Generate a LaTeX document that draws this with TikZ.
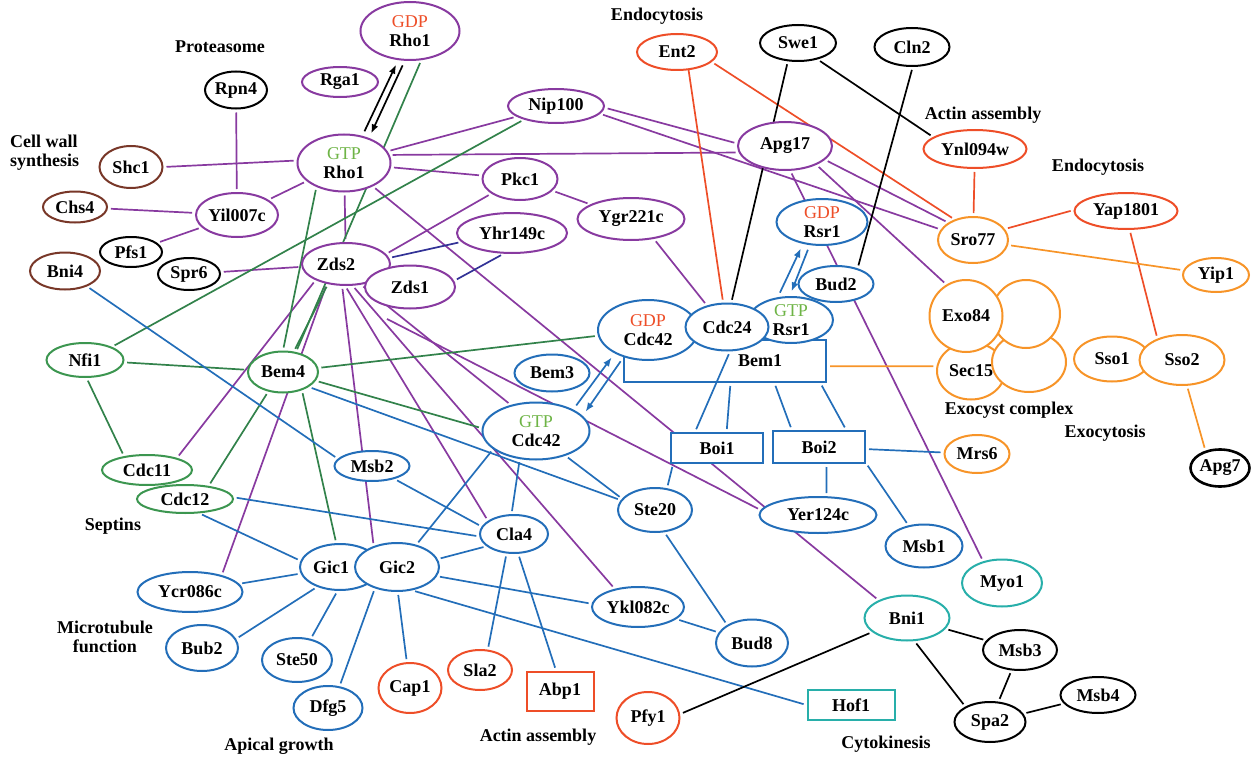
\documentclass[tikz,border=0pt]{standalone}
\usepackage{fontspec}
\setmainfont{Liberation Serif}
\usetikzlibrary{shapes.geometric,arrows.meta,backgrounds}
\definecolor{pur}{RGB}{136,58,160}
\definecolor{grn}{RGB}{50,130,75}
\definecolor{grnN}{RGB}{60,150,80}
\definecolor{blu}{RGB}{35,110,185}
\definecolor{org}{RGB}{247,148,40}
\definecolor{red}{RGB}{238,78,40}
\definecolor{brn}{RGB}{120,55,40}
\definecolor{tea}{RGB}{40,175,170}
\definecolor{ind}{RGB}{50,50,150}
\definecolor{gtp}{RGB}{110,180,70}
\definecolor{gdp}{RGB}{238,78,40}
\definecolor{blk}{RGB}{0,0,0}
\newcommand{\nf}{\bfseries\fontsize{18}{19}\selectfont}
\tikzset{
  nd/.style={ellipse, draw, fill=white, line width=2pt, inner sep=0pt, font=\nf, align=center},
  bx/.style={rectangle, draw, fill=white, line width=2pt, inner sep=0pt, font=\nf},
  sz/.style 2 args={minimum width=#1pt, minimum height=#2pt},
  lbl/.style={font=\nf, inner sep=0pt},
  ln/.style={line width=1.7pt, shorten <=3pt, shorten >=3pt},
  arr/.style={line width=1.7pt, -{Latex[length=9pt,width=7pt]}, shorten <=5pt, shorten >=5pt},
}
\begin{document}
\begin{tikzpicture}[x=1pt,y=-1pt]
\useasboundingbox (0,0) rectangle (1254,760);
% ---- group labels
\node[lbl] (tProt) at (220,47) {Proteasome};
\node[lbl,align=left,anchor=west] (tCell) at (10,153) {Cell wall\\synthesis};
\node[lbl] (tEndoA) at (657,16) {Endocytosis};
\node[lbl] (tActA) at (983,115) {Actin assembly};
\node[lbl] (tEndoB) at (1098,167) {Endocytosis};
\node[lbl] (tExoc) at (1009,410) {Exocyst complex};
\node[lbl] (tExo) at (1105,433) {Exocytosis};
\node[lbl] (tSep) at (113,526) {Septins};
\node[lbl,align=center] (tMic) at (105,637) {Microtubule\\function};
\node[lbl] (tApi) at (279,746) {Apical growth};
\node[lbl] (tActB) at (538,737) {Actin assembly};
\node[lbl] (tCyt) at (886,744) {Cytokinesis};
% ---- black nodes
\node[nd,draw=blk,sz={62}{37}] (Rpn4) at (236,90) {Rpn4};
\node[nd,draw=blk,sz={62}{30}] (Pfs1) at (131,252) {Pfs1};
\node[nd,draw=blk,sz={62}{32}] (Spr6) at (189,274) {Spr6};
\node[nd,draw=blk,sz={76}{36}] (Swe1) at (798,43) {Swe1};
\node[nd,draw=blk,sz={75}{38}] (Cln2) at (912,47) {Cln2};
\node[nd,draw=blk,sz={59}{37},line width=2.6pt] (Apg7) at (1220,468) {Apg7};
\node[nd,draw=blk,sz={74}{40}] (Msb3) at (1020,650) {Msb3};
\node[nd,draw=blk,sz={71}{40}] (Spa2) at (990,722) {Spa2};
\node[nd,draw=blk,sz={75}{36}] (Msb4) at (1098,695) {Msb4};
% ---- brown nodes
\node[nd,draw=brn,sz={63}{42}] (Shc1) at (131,167) {Shc1};
\node[nd,draw=brn,sz={64}{31}] (Chs4) at (75,207) {Chs4};
\node[nd,draw=brn,sz={70}{37}] (Bni4) at (65,271) {Bni4};
% ---- purple nodes
\node[nd,draw=pur,sz={99}{58}] (Rho1GDP) at (410,31) {\textcolor{gdp}{\mdseries GDP}\\Rho1};
\node[nd,draw=pur,sz={76}{30}] (Rga1) at (340,82) {Rga1};
\node[nd,draw=pur,sz={93}{57}] (Rho1GTP) at (344,163) {\textcolor{gtp}{\mdseries GTP}\\Rho1};
\node[nd,draw=pur,sz={82}{44}] (Yil007c) at (237,215) {Yil007c};
\node[nd,draw=pur,sz={96}{34}] (Nip100) at (556,106) {Nip100};
\node[nd,draw=pur,sz={75}{42}] (Pkc1) at (520,179) {Pkc1};
\node[nd,draw=pur,sz={107}{42}] (Ygr221c) at (631,219) {Ygr221c};
\node[nd,draw=pur,sz={110}{40}] (Yhr149c) at (512,233) {Yhr149c};
\node[nd,draw=pur,sz={88}{42}] (Zds2) at (346,264) {Zds2\hspace*{20pt}};
\node[nd,draw=pur,sz={90}{43}] (Zds1) at (410,287) {Zds1};
\node[nd,draw=pur,sz={94}{48}] (Apg17) at (785,146) {Apg17};
% ---- green nodes
\node[nd,draw=grnN,sz={77}{34}] (Nfi1) at (85,360) {Nfi1};
\node[nd,draw=grnN,sz={70}{41}] (Bem4) at (283,372) {Bem4};
\node[nd,draw=grnN,sz={90}{30}] (Cdc11) at (147,470) {Cdc11};
\node[nd,draw=grnN,sz={96}{28}] (Cdc12) at (185,499) {Cdc12};
% ---- blue nodes
\node[nd,draw=blu,sz={75}{30}] (Msb2) at (372,466) {Msb2};
\node[nd,draw=blu,sz={68}{38}] (Cla4) at (514,534) {Cla4};
\node[nd,draw=blu,sz={80}{46}] (Gic1) at (340,567) {Gic1\hspace*{18pt}};
\node[nd,draw=blu,sz={84}{48}] (Gic2) at (397,567) {Gic2};
\node[nd,draw=blu,sz={105}{40}] (Ycr086c) at (190,592) {Ycr086c};
\node[nd,draw=blu,sz={72}{46}] (Bub2) at (202,648) {Bub2};
\node[nd,draw=blu,sz={70}{44}] (Ste50) at (297,660) {Ste50};
\node[nd,draw=blu,sz={69}{44}] (Dfg5) at (328,708) {Dfg5};
\node[nd,draw=blu,sz={92}{40}] (Ykl082c) at (638,607) {Ykl082c};
\node[nd,draw=blu,sz={72}{47}] (Bud8) at (752,643) {Bud8};
\node[nd,draw=blu,sz={74}{44}] (Ste20) at (655,510) {Ste20};
\node[nd,draw=blu,sz={107}{57}] (Cdc42GTP) at (536,431) {\textcolor{gtp}{\mdseries GTP}\\Cdc42};
\node[nd,draw=blu,sz={75}{37}] (Bem3) at (552,373) {Bem3};
\node[rectangle,draw=blu,line width=2pt,minimum width=202pt,minimum height=42pt,inner sep=0pt,
      label={[font=\nf,xshift=35pt]center:Bem1}] (Bem1) at (725,361) {};
\node[nd,draw=blu,sz={100}{60}] (Cdc42GDP) at (648,330) {\textcolor{gdp}{\mdseries GDP}\\Cdc42};
\node[nd,draw=blu,sz={75}{36}] (Bud2) at (836,284) {Bud2};
\node[nd,draw=blu,sz={84}{46}] (Rsr1GTP) at (791,320) {\textcolor{gtp}{\mdseries GTP}\\Rsr1};
\node[nd,draw=blu,sz={83}{47}] (Cdc24) at (727,327) {Cdc24};
\node[nd,draw=blu,sz={91}{46}] (Rsr1GDP) at (822,222) {\textcolor{gdp}{\mdseries GDP}\\Rsr1};
\node[bx,draw=blu,sz={92}{30}] (Boi1) at (717,448) {Boi1};
\node[bx,draw=blu,sz={92}{32}] (Boi2) at (819,447) {Boi2};
\node[nd,draw=blu,sz={117}{36}] (Yer124c) at (818,515) {Yer124c};
\node[nd,draw=blu,sz={77}{43}] (Msb1) at (924,546) {Msb1};
% ---- red nodes
\node[nd,draw=red,sz={80}{36}] (Ent2) at (677,52) {Ent2};
\node[nd,draw=red,sz={103}{38}] (Ynl094w) at (975,149) {Ynl094w};
\node[nd,draw=red,sz={103}{36}] (Yap1801) at (1126,211) {Yap1801};
\node[nd,draw=red,sz={63}{50}] (Cap1) at (410,688) {Cap1};
\node[nd,draw=red,sz={64}{40}] (Sla2) at (480,670) {Sla2};
\node[bx,draw=red,sz={67}{39}] (Abp1) at (560,691) {Abp1};
\node[nd,draw=red,sz={63}{52}] (Pfy1) at (648,718) {Pfy1};
% ---- orange nodes
\node[nd,draw=org,sz={70}{46}] (Sro77) at (973,240) {Sro77};
\node[nd,draw=org,sz={66}{34}] (Yip1) at (1216,275) {Yip1};
\node[nd,draw=org,sz={68}{57}] (Sec15) at (971,371) {Sec15};
\node[nd,draw=org,sz={74}{60}] (ExoBR) at (1029,362) {};
\node[nd,draw=org,sz={68}{68}] (ExoTR) at (1026,314) {};
\node[nd,draw=org,sz={73}{72}] (Exo84) at (966,316) {Exo84};
\node[nd,draw=org,sz={76}{45}] (Sso1) at (1112,359) {Sso1};
\node[nd,draw=org,sz={85}{50}] (Sso2) at (1182,360) {Sso2};
\node[nd,draw=org,sz={65}{38}] (Mrs6) at (977,454) {Mrs6};
% ---- teal nodes
\node[nd,draw=tea,sz={80}{47}] (Myo1) at (1002,583) {Myo1};
\node[nd,draw=tea,sz={85}{45}] (Bni1) at (907,618) {Bni1};
\node[bx,draw=tea,sz={87}{30}] (Hof1) at (851,705) {Hof1};

\begin{pgfonlayer}{background}
% purple
\draw[ln,pur] (Shc1.0) -- (Rho1GTP.177);
\draw[ln,pur] (Rpn4) -- (Yil007c);
\draw[ln,pur] (Chs4) -- (Yil007c);
\draw[ln,pur] (Pfs1) -- (Yil007c);
\draw[ln,pur] (Yil007c) -- (Rho1GTP);
\draw[ln,pur] (Rho1GTP) -- (Nip100);
\draw[ln,pur] (Rho1GTP.10) -- (Apg17.188);
\draw[ln,pur] (Rho1GTP) -- (Pkc1);
\draw[ln,pur] (Rho1GTP) -- (Zds2);
\draw[ln,pur] (Rho1GTP.321) -- (Bni1.148);
\draw[ln,pur] (Pkc1) -- (Ygr221c);
\draw[ln,pur] (Pkc1.207) -- (Zds2.14);
\draw[ln,pur] (Ygr221c.319) -- (Cdc24.133);
\draw[ln,pur] (Nip100.358) -- (Apg17.177);
\draw[ln,pur] (Nip100.350) -- (Sro77.162);
\draw[ln,pur] (Apg17.341) -- (Sro77.145);
\draw[ln,pur] (Apg17.329) -- (Exo84.122);
\draw[ln,pur] (Apg17.282) -- (Myo1.131);
\draw[ln,pur] (Spr6) -- (Zds2);
\draw[ln,pur] (Zds2.208) -- (Cdc11.22);
\draw[ln,pur] (Zds2.226) -- (Ycr086c.28);
\draw[ln,pur] (Zds2.260) -- (Gic2.138);
\draw[ln,pur] (Zds2.268) -- (Cla4.153);
\draw[ln,pur] (Zds2.287) -- (Ykl082c.142);
\draw[ln,pur] (Zds2.306) -- (Cdc42GTP.134);
\draw[ln,pur,shorten <=46pt] ([yshift=-12pt]Zds2.south) -- (Yer124c.175);
% indigo
\draw[ln,ind] (Zds2.8) -- (Yhr149c.190);
\draw[ln,ind] (Zds1.8) -- (Yhr149c.248);
% green
\draw[ln,grn] (Rho1GDP.291) -- (Bem4.57);
\draw[ln,grn] (Rho1GTP.221) -- (Bem4.90);
\draw[ln,grn] (Zds2.228) -- (Bem4.62);
\draw[ln,grn] (Nip100.203) -- (Nfi1.26);
\draw[ln,grn] (Nfi1) -- (Bem4);
\draw[ln,grn] (Nfi1.275) -- (Cdc11.149);
\draw[ln,grn] (Bem4.233) -- (Cdc12.29);
\draw[ln,grn] (Bem4.316) -- (Gic1.99);
\draw[ln,grn] (Bem4) -- (Cdc42GDP);
\draw[ln,grn] (Bem4.345) -- (Cdc42GTP.177);
% blue
\draw[ln,blu] (Bni4.325) -- (Msb2.168);
\draw[ln,blu] (Bem4.330) -- (Ste20.164);
\draw[ln,blu] (Cdc12.2) -- (Cla4.184);
\draw[ln,blu] (Cdc12.315) -- (Gic1.171);
\draw[ln,blu] (Ycr086c) -- (Gic1);
\draw[ln,blu] (Bub2.15) -- (Gic1.221);
\draw[ln,blu] (Ste50.57) -- (Gic1.264);
\draw[ln,blu] (Dfg5.62) -- (Gic2.224);
\draw[ln,blu] (Gic2.272) -- (Cap1.97);
\draw[ln,blu] (Gic2.11) -- (Cla4.204);
\draw[ln,blu] (Gic2.49) -- (Cdc42GTP.203);
\draw[ln,blu] (Gic2.347) -- (Ykl082c.176);
\draw[ln,blu] (Gic2.303) -- (Hof1.west);
\draw[ln,blu] (Msb2.330) -- (Cla4.167);
\draw[ln,blu] (Cla4.249) -- (Sla2.69);
\draw[ln,blu] (Cla4.282) -- (Abp1.101);
\draw[ln,blu] (Cla4.97) -- (Cdc42GTP.240);
\draw[ln,blu] (Cdc42GTP.320) -- (Ste20.161);
\draw[ln,blu] (Ste20.293) -- (Bud8.144);
\draw[ln,blu] (Ykl082c) -- (Bud8);
\draw[ln,blu] (Cdc24.277) -- (Boi1.144);
\draw[ln,blu] (Bem1.284) -- (Boi1.59);
\draw[ln,blu] (Bem1.336) -- (Boi2.148);
\draw[ln,blu] (Bem1.347) -- (Boi2.32);
\draw[ln,blu] (Boi1.200) -- (Ste20.61);
\draw[ln,blu] (Boi2) -- (Mrs6);
\draw[ln,blu] (Boi2.294) -- (Yer124c.66);
\draw[ln,blu] (Boi2.341) -- (Msb1.127);
% red
\draw[ln,red] (Ent2.72) -- (Cdc24.99);
\draw[ln,red] (Ent2.344) -- (Sro77.132);
\draw[ln,red] (Ynl094w) -- (Sro77);
\draw[ln,red] (Sro77.19) -- (Yap1801.179);
\draw[ln,red] (Yap1801.281) -- (Sso2.139);
% black
\draw[ln,blk] (Swe1.241) -- (Cdc24.80);
\draw[ln,blk] (Swe1.320) -- (Ynl094w.164);
\draw[ln,blk] (Cln2.272) -- (Bud2.36);
\draw[ln,blk] (Bni1.202) -- (Pfy1.7);
\draw[ln,blk] (Bni1) -- (Msb3);
\draw[ln,blk] (Bni1.288) -- (Spa2.148);
\draw[ln,blk] (Msb3) -- (Spa2);
\draw[ln,blk] (Spa2) -- (Msb4);
% orange
\draw[ln,org] (Sro77) -- (Yip1);
\draw[ln,org] (Bem1.357) -- (Sec15.172);
\draw[ln,org] (Sso2.281) -- (Apg7.130);
\end{pgfonlayer}
% arrows
\draw[arr,blk] (Rho1GTP.56) -- (Rho1GDP.248);
\draw[arr,blk] (Rho1GDP.260) -- (Rho1GTP.45);
\draw[arr,blu] (Cdc42GTP.30) -- (Cdc42GDP.215);
\draw[arr,blu] (Cdc42GDP.228) -- (Cdc42GTP.18);
\draw[arr,blu] (Rsr1GTP.120) -- (Rsr1GDP.229);
\draw[arr,blu] (Rsr1GDP.242) -- (Rsr1GTP.93);
\end{tikzpicture}
\end{document}
